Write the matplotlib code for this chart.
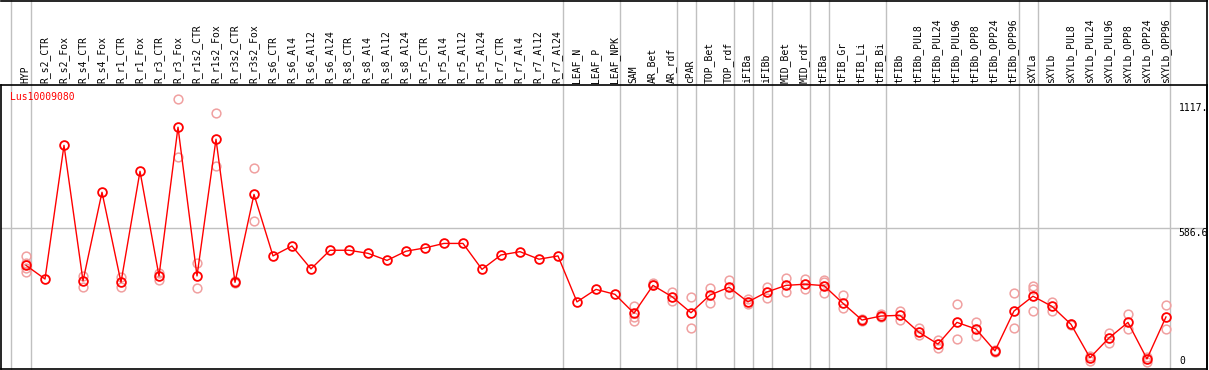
import matplotlib
matplotlib.use("Agg")
import matplotlib.pyplot as plt
from matplotlib.lines import Line2D
import matplotlib.transforms as mtransforms

categories = ["HYP", "R_s2_CTR", "R_s2_Fox", "R_s4_CTR", "R_s4_Fox", "R_r1_CTR", "R_r1_Fox",
              "R_r3_CTR", "R_r3_Fox", "R_r1s2_CTR", "R_r1s2_Fox", "R_r3s2_CTR", "R_r3s2_Fox",
              "R_s6_CTR", "R_s6_Al4", "R_s6_Al12", "R_s6_Al24", "R_s8_CTR", "R_s8_Al4",
              "R_s8_Al12", "R_s8_Al24", "R_r5_CTR", "R_r5_Al4", "R_r5_Al12", "R_r5_Al24",
              "R_r7_CTR", "R_r7_Al4", "R_r7_Al12", "R_r7_Al24", "LEAF_N", "LEAF_P", "LEAF_NPK",
              "SAM", "AR_Bet", "AR_rdf", "cPAR", "TOP_Bet", "TOP_rdf", "iFIBa", "iFIBb",
              "MID_Bet", "MID_rdf", "tFIBa", "tFIB_Gr", "tFIB_Li", "tFIB_Bi", "tFIBb",
              "tFIBb_PUL8", "tFIBb_PUL24", "tFIBb_PUL96", "tFIBb_OPP8", "tFIBb_OPP24",
              "tFIBb_OPP96", "sXYLa", "sXYLb", "sXYLb_PUL8", "sXYLb_PUL24", "sXYLb_PUL96",
              "sXYLb_OPP8", "sXYLb_OPP24", "sXYLb_OPP96"]

means = [427, 369, 936, 361, 737, 355, 826, 382, 1013, 382, 962, 355, 728,
         467, 509, 412, 491, 491, 478, 448, 487, 501, 520, 520, 410,
         471, 485, 453, 467, 272, 325, 304,
         224, 342, 294, 226, 301, 334, 272, 314,
         342, 347, 341, 266, 195, 212, 215,
         143, 93, 185, 157, 64, 233,
         296, 253, 177, 35, 119, 185, 30, 208]

replicates = {
    0: [467, 437, 415, 399], 3: [382, 337], 5: [376, 334], 7: [396, 365],
    8: [1133, 885], 9: [437, 330], 10: [1075, 847], 11: [360, 352], 12: [841, 614],
    32: [255, 209, 192], 33: [351, 345], 34: [315, 274], 35: [291, 160],
    36: [330, 266], 37: [364, 304], 38: [283, 263], 39: [337, 290],
    40: [375, 315], 41: [369, 327], 42: [364, 356, 308], 43: [300, 245],
    44: [200, 192], 45: [220, 208], 46: [235, 195], 47: [160, 131],
    48: [110, 75], 49: [263, 113], 50: [188, 127], 51: [68, 58],
    52: [308, 160], 53: [339, 325, 233], 54: [273, 235], 55: [180, 174],
    56: [42, 21], 57: [139, 99], 58: [221, 156], 59: [40, 18], 60: [259, 156],
}

group_breaks = [-0.8, 0.25, 28.25, 31.25, 34.25, 35.25, 37.25, 38.25, 39.25,
                41.25, 42.25, 45.25, 52.25, 53.25, 60.2]
y_ticks = [1117, 586.6, 0]
y_tick_labels = ["1117.", "586.6", "0"]
gene = "Lus10009080"

W, H = 1209, 370
FONT = "DejaVu Sans Mono"
FS = 7

fig = plt.figure(figsize=(W / 100, H / 100), dpi=100)
# plot region: px x 1..1207, y 85..369
ax = fig.add_axes([1 / W, (H - 369) / H, 1206 / W, 284 / H])
ax.set_xlim(-1.316, 62.16)
ax.set_ylim(-12.7, 1192)
ax.set_xticks([])
ax.set_yticks([])
for s in ax.spines.values():
    s.set_color("black")
    s.set_linewidth(1.2)

ext = (284 + 85) / 284
for xb in group_breaks:
    ax.axvline(xb, ymin=0, ymax=ext, color="#c0c0c0", lw=1.0, clip_on=False, zorder=1)
ax.axhline(586.6, color="#c0c0c0", lw=1.0, zorder=1)

# top and right border of the header
fig.add_artist(Line2D([1 / W, 1207 / W], [1 - 0.6 / H, 1 - 0.6 / H], color="black", lw=1.2))
fig.add_artist(Line2D([1206.5 / W, 1206.5 / W], [(H - 369) / H, 1], color="black", lw=1.2))

xs = list(range(len(categories)))
for i, reps in replicates.items():
    ax.plot([i] * len(reps), reps, linestyle="none", marker="o", ms=6.3,
            mfc="none", mec="#f0a0a0", mew=1.1, zorder=2, clip_on=False)
ax.plot(xs, means, color="#ff0000", lw=1.0, zorder=3)
ax.plot(xs, means, linestyle="none", marker="o", ms=6.3, mfc="none",
        mec="#ff0000", mew=1.3, zorder=4)

# header labels
trans = mtransforms.blended_transform_factory(ax.transData, fig.transFigure)
for i, c in enumerate(categories):
    fig.text(i - 0.03, (H - 83) / H, c, transform=trans, rotation=90, ha="center",
             va="bottom", fontsize=FS, family=FONT, color="black")

fig.text(10 / W, 1 - 97 / H, gene, color="#ff0000", fontsize=FS, family=FONT,
         ha="left", va="center")

# right-side value labels
fig.text(1178.5 / W, 1 - 103 / H, y_tick_labels[0], fontsize=FS, family=FONT, ha="left", va="top")
fig.text(1178.5 / W, 1 - 228.5 / H, y_tick_labels[1], fontsize=FS, family=FONT, ha="left", va="top")
fig.text(1179 / W, 1 - 366 / H, y_tick_labels[2], fontsize=FS, family=FONT, ha="left", va="bottom")

fig.savefig("out.png", dpi=100)
